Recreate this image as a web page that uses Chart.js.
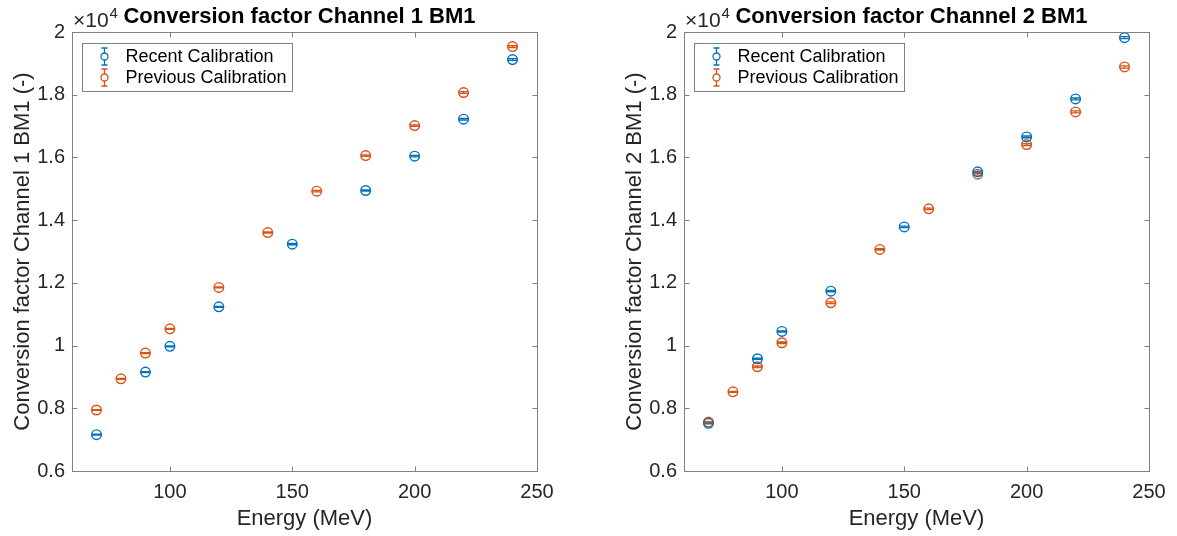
<!DOCTYPE html>
<html>
<head>
<meta charset="utf-8">
<title>Conversion factor BM1</title>
<script src="https://cdn.jsdelivr.net/npm/chart.js@4.4.0/dist/chart.umd.min.js"></script>
<style>
  html, body { margin: 0; padding: 0; background: #fff; }
  body { width: 1177px; height: 536px; position: relative; overflow: hidden; }
  .panel { position: absolute; top: 0; height: 536px; }
  #panel1 { left: 0; width: 600px; }
  #panel2 { left: 612px; width: 565px; }
</style>
</head>
<body>
<div class="panel" id="panel1"><canvas id="chart1" width="600" height="536"></canvas></div>
<div class="panel" id="panel2"><canvas id="chart2" width="565" height="536"></canvas></div>
<script>
// beam energies (MeV)
const energiesRecent = [70, 90, 100, 120, 150, 180, 200, 220, 240];
const energiesPrevious = [70, 80, 90, 100, 120, 140, 160, 180, 200, 220, 240];

// conversion factors, channel 1
const ch1Recent = [7160, 9155, 9975, 11235, 13235, 14945, 16040, 17220, 19120];
const ch1RecentErr = [12, 14, 15, 17, 20, 22, 24, 26, 28];
const ch1Previous = [7945, 8940, 9760, 10535, 11855, 13605, 14925, 16060, 17015, 18070, 19535];
const ch1PreviousErr = [13, 14, 15, 16, 18, 20, 22, 24, 26, 27, 29];

// conversion factors, channel 2
const ch2Recent = [7520, 9580, 10450, 11735, 13785, 15540, 16655, 17865, 19820];
const ch2RecentErr = [15, 18, 19, 21, 24, 26, 28, 30, 32];
const ch2Previous = [7560, 8525, 9325, 10090, 11365, 13065, 14360, 15465, 16410, 17450, 18885];
const ch2PreviousErr = [14, 16, 25, 24, 26, 23, 25, 28, 30, 32, 34];

const xTicks = [100, 150, 200, 250];
const yTicks = [6000, 8000, 10000, 12000, 14000, 16000, 18000, 20000];
const yTickLabels = ['0.6', '0.8', '1', '1.2', '1.4', '1.6', '1.8', '2'];

const BLUE = '#0072BD';
const ORANGE = '#D95319';
const TEXT = '#262626';
const BOX = '#808080';
const FONT = '"Liberation Sans", Arial, Helvetica, sans-serif';
const CAP = 4.8;

function points(xs, ys) {
  return xs.map((x, i) => ({ x: x, y: ys[i] }));
}

// MATLAB-ish axes: error bars, box with inward ticks, title, exponent and legend
const matlabAxes = {
  id: 'matlabAxes',
  beforeDatasetsDraw(chart) {
    const ctx = chart.ctx;
    const xs = chart.scales.x, ys = chart.scales.y;
    chart.data.datasets.forEach(ds => {
      ctx.save();
      ctx.strokeStyle = ds.borderColor;
      ctx.lineWidth = 1.3;
      ds.data.forEach((p, i) => {
        const e = ds.errors[i];
        const x = xs.getPixelForValue(p.x);
        const y0 = ys.getPixelForValue(p.y - e);
        const y1 = ys.getPixelForValue(p.y + e);
        ctx.beginPath();
        ctx.moveTo(x, y0); ctx.lineTo(x, y1);
        ctx.moveTo(x - CAP, y0); ctx.lineTo(x + CAP, y0);
        ctx.moveTo(x - CAP, y1); ctx.lineTo(x + CAP, y1);
        ctx.stroke();
      });
      ctx.restore();
    });
  },
  afterDraw(chart, args, opts) {
    const ctx = chart.ctx;
    const a = chart.chartArea;
    const xs = chart.scales.x, ys = chart.scales.y;
    ctx.save();

    // box and inward ticks
    ctx.strokeStyle = BOX;
    ctx.lineWidth = 1;
    const L = Math.round(a.left) + 0.5, R = Math.round(a.right) + 0.5;
    const T = Math.round(a.top) + 0.5, B = Math.round(a.bottom) + 0.5;
    ctx.strokeRect(L, T, R - L, B - T);
    ctx.beginPath();
    xs.ticks.forEach(t => {
      const x = Math.round(xs.getPixelForValue(t.value)) + 0.5;
      ctx.moveTo(x, B); ctx.lineTo(x, B - 5);
      ctx.moveTo(x, T); ctx.lineTo(x, T + 5);
    });
    ys.ticks.forEach(t => {
      const y = Math.round(ys.getPixelForValue(t.value)) + 0.5;
      ctx.moveTo(L, y); ctx.lineTo(L + 5, y);
      ctx.moveTo(R, y); ctx.lineTo(R - 5, y);
    });
    ctx.stroke();

    // title
    ctx.fillStyle = '#000';
    ctx.font = 'bold 22px ' + FONT;
    ctx.textAlign = 'center';
    ctx.textBaseline = 'alphabetic';
    ctx.fillText(opts.title, (a.left + a.right) / 2 - 5, a.top - 9);

    // axis exponent
    ctx.fillStyle = TEXT;
    ctx.textAlign = 'left';
    ctx.font = '21px ' + FONT;
    const base = '\u00d710';
    ctx.fillText(base, a.left + 1, a.top - 5);
    const w = ctx.measureText(base).width;
    ctx.font = '15px ' + FONT;
    ctx.fillText('4', a.left + 1 + w + 1, a.top - 14);

    // legend
    const lx = Math.round(a.left) + 10.5, ly = Math.round(a.top) + 11.5;
    const lw = 210, lh = 48;
    ctx.fillStyle = '#fff';
    ctx.fillRect(lx, ly, lw, lh);
    ctx.strokeStyle = BOX;
    ctx.strokeRect(lx, ly, lw, lh);
    chart.data.datasets.forEach((ds, i) => {
      const cx = lx + 22, cy = ly + 13 + i * 21;
      ctx.strokeStyle = ds.borderColor;
      ctx.lineWidth = 1.3;
      ctx.beginPath();
      ctx.moveTo(cx, cy - 8.5); ctx.lineTo(cx, cy - 3.5);
      ctx.moveTo(cx, cy + 3.5); ctx.lineTo(cx, cy + 8.5);
      ctx.moveTo(cx - 3, cy - 8.5); ctx.lineTo(cx + 3, cy - 8.5);
      ctx.moveTo(cx - 3, cy + 8.5); ctx.lineTo(cx + 3, cy + 8.5);
      ctx.stroke();
      ctx.beginPath();
      ctx.arc(cx, cy, 3.5, 0, Math.PI * 2);
      ctx.stroke();
      ctx.fillStyle = '#000';
      ctx.font = '18px ' + FONT;
      ctx.textBaseline = 'middle';
      ctx.fillText(ds.label, lx + 43, cy + 1);
    });
    ctx.restore();
  }
};

function makeChart(id, title, yLabel, recent, recentErr, previous, previousErr, padRight) {
  const marker = {
    showLine: false,
    pointStyle: 'circle',
    pointRadius: 4.8,
    pointHoverRadius: 4.8,
    pointBorderWidth: 1.4,
    pointBackgroundColor: 'rgba(0,0,0,0)'
  };
  return new Chart(document.getElementById(id), {
    type: 'scatter',
    data: {
      datasets: [
        Object.assign({
          label: 'Recent Calibration',
          data: points(energiesRecent, recent),
          errors: recentErr,
          borderColor: BLUE,
          pointBorderColor: BLUE
        }, marker),
        Object.assign({
          label: 'Previous Calibration',
          data: points(energiesPrevious, previous),
          errors: previousErr,
          borderColor: ORANGE,
          pointBorderColor: ORANGE
        }, marker)
      ]
    },
    options: {
      responsive: false,
      animation: false,
      devicePixelRatio: 1,
      layout: { padding: { top: 32, right: padRight, left: 0, bottom: 0 } },
      plugins: {
        legend: { display: false },
        tooltip: { enabled: false },
        matlabAxes: { title: title }
      },
      scales: {
        x: {
          type: 'linear',
          min: 60,
          max: 250,
          afterBuildTicks: s => { s.ticks = xTicks.map(v => ({ value: v })); },
          afterFit: s => { s.height = 65; },
          grid: { display: false, drawTicks: false },
          border: { display: false },
          ticks: {
            color: TEXT,
            padding: 9,
            maxRotation: 0,
            font: { family: FONT, size: 20 }
          },
          title: {
            display: true,
            text: 'Energy (MeV)',
            color: TEXT,
            padding: { top: 0, bottom: 4 },
            font: { family: FONT, size: 22 }
          }
        },
        y: {
          type: 'linear',
          min: 6000,
          max: 20000,
          afterBuildTicks: s => { s.ticks = yTicks.map(v => ({ value: v })); },
          afterFit: s => { s.width = 72; },
          grid: { display: false, drawTicks: false },
          border: { display: false },
          ticks: {
            color: TEXT,
            padding: 7,
            font: { family: FONT, size: 20 },
            callback: (v, i) => yTickLabels[i]
          },
          title: {
            display: true,
            text: yLabel,
            color: TEXT,
            padding: { top: 10, bottom: 0 },
            font: { family: FONT, size: 22 }
          }
        }
      }
    },
    plugins: [matlabAxes]
  });
}

makeChart('chart1', 'Conversion factor Channel 1 BM1', 'Conversion factor Channel 1 BM1 (-)',
  ch1Recent, ch1RecentErr, ch1Previous, ch1PreviousErr, 63);
makeChart('chart2', 'Conversion factor Channel 2 BM1', 'Conversion factor Channel 2 BM1 (-)',
  ch2Recent, ch2RecentErr, ch2Previous, ch2PreviousErr, 28);
</script>
</body>
</html>
